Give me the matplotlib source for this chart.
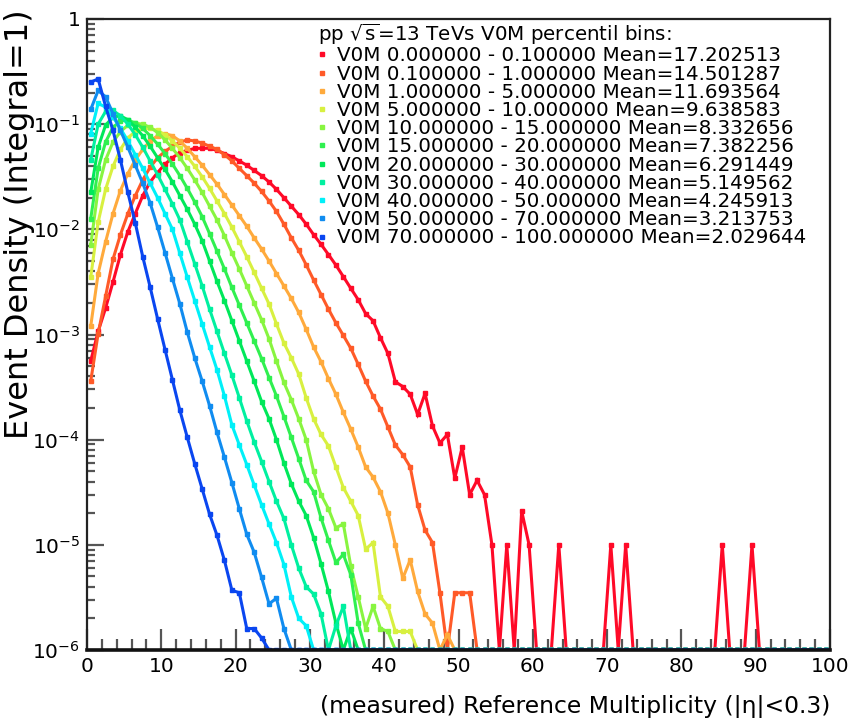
import numpy as np
import matplotlib
matplotlib.use("Agg")
import matplotlib.pyplot as plt
from matplotlib.lines import Line2D
from matplotlib.ticker import FixedLocator, FixedFormatter, MultipleLocator, LogLocator, NullFormatter

plt.rcParams['font.family'] = ['DejaVu Sans']
plt.rcParams['mathtext.fontset'] = 'dejavusans'

# bin centres of the multiplicity histogram (0..100, 100 bins)
bin_centers = np.arange(100) + 0.5

def pad(vals):
    out = np.zeros(100)
    out[:len(vals)] = vals
    return out

v0m_0_01 = pad([5.6e-4, 1.07e-3, 1.78e-3, 3.16e-3, 5.75e-3, 9.5e-3, 1.41e-2, 2.09e-2, 2.82e-2, 3.47e-2,
                4.17e-2, 4.79e-2, 5.37e-2, 5.62e-2, 5.89e-2, 5.89e-2, 5.9e-2, 5.62e-2, 5.25e-2, 4.9e-2,
                4.47e-2, 4.07e-2, 3.63e-2, 3.24e-2, 2.82e-2, 2.4e-2, 2.0e-2, 1.66e-2, 1.38e-2, 1.12e-2,
                8.9e-3, 7.2e-3, 5.75e-3, 4.57e-3, 3.55e-3, 2.75e-3, 2.14e-3, 1.58e-3, 1.35e-3, 9.3e-4,
                6.6e-4, 3.55e-4, 3.2e-4, 2.7e-4, 1.74e-4, 2.75e-4, 1.35e-4, 9.3e-5, 1.12e-4, 4.3e-5,
                8.5e-5, 3.0e-5, 4.1e-5, 3.0e-5, 1.0e-5, 0, 1.0e-5, 0, 2.1e-5, 1.0e-5,
                0, 0, 0, 1.0e-5, 0, 0, 0, 0, 0, 0,
                1.0e-5, 0, 1.0e-5, 0, 0, 0, 0, 0, 0, 0,
                0, 0, 0, 0, 0, 1.0e-5, 0, 0, 0, 1.0e-5])
v0m_01_1 = pad([3.6e-4, 1.02e-3, 2.3e-3, 5.2e-3, 8.9e-3, 1.41e-2, 2.09e-2, 2.95e-2, 3.89e-2, 4.79e-2,
                5.5e-2, 6.17e-2, 6.76e-2, 7.08e-2, 6.92e-2, 6.61e-2, 6.17e-2, 5.75e-2, 5.13e-2, 4.47e-2,
                3.8e-2, 3.24e-2, 2.75e-2, 2.29e-2, 1.86e-2, 1.48e-2, 1.12e-2, 8.3e-3, 6.3e-3, 4.6e-3,
                3.3e-3, 2.4e-3, 1.74e-3, 1.29e-3, 9.8e-4, 7.4e-4, 5.2e-4, 3.6e-4, 2.6e-4, 1.95e-4,
                1.32e-4, 8.9e-5, 7.2e-5, 5.5e-5, 2.4e-5, 1.38e-5, 1.05e-5, 3.5e-6, 0, 3.5e-6,
                3.5e-6, 3.5e-6])
v0m_1_5 = pad([1.2e-3, 3.8e-3, 7.6e-3, 1.41e-2, 2.34e-2, 3.39e-2, 4.57e-2, 5.75e-2, 6.92e-2, 7.76e-2,
               8.13e-2, 7.76e-2, 6.92e-2, 5.89e-2, 4.9e-2, 4.07e-2, 3.31e-2, 2.69e-2, 2.14e-2, 1.7e-2,
               1.35e-2, 1.07e-2, 8.3e-3, 6.5e-3, 5.0e-3, 3.8e-3, 2.9e-3, 2.2e-3, 1.62e-3, 1.12e-3,
               7.6e-4, 5.5e-4, 3.8e-4, 2.7e-4, 1.82e-4, 1.26e-4, 8.5e-5, 5.5e-5, 4.4e-5, 3.2e-5,
               2.0e-5, 1.0e-5, 4.8e-6, 7.2e-6, 3.6e-6, 2.2e-6, 1.8e-6, 0, 1.4e-6])
v0m_5_10 = pad([3.5e-3, 1.17e-2, 2.4e-2, 3.98e-2, 5.75e-2, 7.41e-2, 8.51e-2, 9.12e-2, 9.12e-2, 8.71e-2,
                7.94e-2, 6.92e-2, 5.89e-2, 4.9e-2, 3.98e-2, 3.16e-2, 2.45e-2, 1.86e-2, 1.41e-2, 1.05e-2,
                7.6e-3, 5.5e-3, 3.9e-3, 2.75e-3, 1.95e-3, 1.26e-3, 8.3e-4, 6.0e-4, 4.2e-4, 2.5e-4,
                1.58e-4, 1.12e-4, 8.7e-5, 5.5e-5, 3.5e-5, 2.6e-5, 1.9e-5, 9.1e-6, 1.05e-5, 3.2e-6,
                2.6e-6, 1.5e-6, 1.5e-6, 1.5e-6])
v0m_10_15 = pad([7.1e-3, 2.4e-2, 4.57e-2, 6.76e-2, 8.51e-2, 9.77e-2, 1.02e-1, 1.0e-1, 9.33e-2, 8.32e-2,
                 7.08e-2, 5.89e-2, 4.79e-2, 3.8e-2, 2.95e-2, 2.24e-2, 1.66e-2, 1.23e-2, 8.7e-3, 6.0e-3,
                 4.2e-3, 2.9e-3, 2.0e-3, 1.38e-3, 9.1e-4, 5.6e-4, 3.5e-4, 2.4e-4, 1.58e-4, 1.0e-4,
                 5.0e-5, 3.0e-5, 2.2e-5, 1.45e-5, 1.58e-5, 6.3e-6, 3.2e-6, 1.6e-6, 2.6e-6, 1.6e-6,
                 1.5e-6])
v0m_15_20 = pad([1.26e-2, 3.8e-2, 6.76e-2, 9.33e-2, 1.07e-1, 1.1e-1, 1.02e-1, 9.12e-2, 7.76e-2, 6.46e-2,
                 5.25e-2, 4.17e-2, 3.24e-2, 2.45e-2, 1.82e-2, 1.32e-2, 9.1e-3, 6.2e-3, 4.2e-3, 2.8e-3,
                 1.9e-3, 1.29e-3, 8.7e-4, 5.9e-4, 3.9e-4, 2.6e-4, 1.66e-4, 1.05e-4, 6.6e-5, 4.1e-5,
                 3.2e-5, 1.8e-5, 1.1e-5, 6.8e-6, 8.1e-6, 5.2e-6, 1.8e-6])
v0m_20_30 = pad([2.24e-2, 6.03e-2, 9.77e-2, 1.17e-1, 1.2e-1, 1.1e-1, 9.33e-2, 7.76e-2, 6.17e-2, 4.79e-2,
                 3.72e-2, 2.82e-2, 2.09e-2, 1.55e-2, 1.12e-2, 7.8e-3, 5.0e-3, 3.2e-3, 2.1e-3, 1.35e-3,
                 8.7e-4, 5.6e-4, 3.6e-4, 2.3e-4, 1.58e-4, 1.0e-4, 6.0e-5, 3.8e-5, 2.6e-5, 1.9e-5,
                 1.17e-5, 6.6e-6, 3.6e-6, 1.8e-6, 0, 1.6e-6])
v0m_30_40 = pad([4.57e-2, 1.0e-1, 1.32e-1, 1.35e-1, 1.2e-1, 1.0e-1, 7.94e-2, 6.03e-2, 4.47e-2, 3.31e-2,
                 2.4e-2, 1.74e-2, 1.23e-2, 7.6e-3, 4.7e-3, 2.9e-3, 1.74e-3, 1.07e-3, 6.6e-4, 4.1e-4,
                 2.5e-4, 1.51e-4, 9.5e-5, 6.2e-5, 4.0e-5, 2.6e-5, 1.78e-5, 1.0e-5, 6.0e-6, 4.0e-6,
                 3.4e-6, 2.2e-6, 0, 1.7e-6, 2.6e-6])
v0m_40_50 = pad([8.13e-2, 1.58e-1, 1.45e-1, 1.17e-1, 9.12e-2, 6.92e-2, 5.13e-2, 3.8e-2, 2.75e-2, 2.0e-2,
                 1.41e-2, 1.0e-2, 5.9e-3, 3.5e-3, 2.1e-3, 1.26e-3, 7.6e-4, 4.6e-4, 2.6e-4, 1.38e-4,
                 8.9e-5, 5.8e-5, 3.7e-5, 2.4e-5, 1.58e-5, 1.05e-5, 6.5e-6, 3.2e-6, 2.0e-6, 1.7e-6])
v0m_50_70 = pad([1.38e-1, 2.09e-1, 1.82e-1, 1.26e-1, 8.71e-2, 6.03e-2, 4.07e-2, 2.75e-2, 1.78e-2, 1.05e-2,
                 6.0e-3, 3.4e-3, 1.95e-3, 1.05e-3, 6.0e-4, 3.6e-4, 2.1e-4, 1.17e-4, 6.8e-5, 3.9e-5,
                 2.2e-5, 1.26e-5, 8.5e-6, 4.9e-6, 2.75e-6, 3.1e-6, 1.6e-6])
v0m_70_100 = pad([2.51e-1, 2.69e-1, 1.48e-1, 8.71e-2, 4.57e-2, 2.24e-2, 1.15e-2, 5.5e-3, 2.82e-3, 1.41e-3,
                  7.2e-4, 3.7e-4, 1.9e-4, 1.05e-4, 5.9e-5, 3.4e-5, 1.95e-5, 1.23e-5, 7.1e-6, 3.7e-6,
                  3.5e-6, 1.6e-6, 1.6e-6, 1.3e-6])

series = [v0m_0_01, v0m_01_1, v0m_1_5, v0m_5_10, v0m_10_15, v0m_15_20,
          v0m_20_30, v0m_30_40, v0m_40_50, v0m_50_70, v0m_70_100]
labels = ["V0M 0.000000 - 0.100000 Mean=17.202513",
          "V0M 0.100000 - 1.000000 Mean=14.501287",
          "V0M 1.000000 - 5.000000 Mean=11.693564",
          "V0M 5.000000 - 10.000000 Mean=9.638583",
          "V0M 10.000000 - 15.000000 Mean=8.332656",
          "V0M 15.000000 - 20.000000 Mean=7.382256",
          "V0M 20.000000 - 30.000000 Mean=6.291449",
          "V0M 30.000000 - 40.000000 Mean=5.149562",
          "V0M 40.000000 - 50.000000 Mean=4.245913",
          "V0M 50.000000 - 70.000000 Mean=3.213753",
          "V0M 70.000000 - 100.000000 Mean=2.029644"]
colors = ["#ff0a28", "#ff5a28", "#ffaa3c", "#d8f040", "#88f540", "#30f050",
          "#00e85a", "#00f0a0", "#00f0f8", "#108cf0", "#0a46f0"]

ytick_vals = [1e-6, 1e-5, 1e-4, 1e-3, 1e-2, 1e-1, 1.0]
ytick_labels = [r"$\mathdefault{10^{-6}}$", r"$\mathdefault{10^{-5}}$", r"$\mathdefault{10^{-4}}$",
                r"$\mathdefault{10^{-3}}$", r"$\mathdefault{10^{-2}}$", r"$\mathdefault{10^{-1}}$",
                r"$\mathdefault{1}$"]
xtick_vals = [0, 10, 20, 30, 40, 50, 60, 70, 80, 90, 100]

W, H = 856, 722
fig = plt.figure(figsize=(W / 100, H / 100), dpi=100)
ax = fig.add_axes([87 / W, 72 / H, (830 - 87) / W, (650 - 19) / H])
ax.set_yscale('log')
ymin = 1e-6

for vals, col in zip(series, colors):
    ax.plot(bin_centers, np.maximum(vals, ymin), color=col, lw=2.2,
            marker='s', ms=3.2, mec=col, mfc=col, solid_joinstyle='miter', clip_on=True)

ax.set_xlim(0, 100)
ax.set_ylim(ymin, 1.0)

ax.xaxis.set_major_locator(FixedLocator(xtick_vals))
ax.xaxis.set_minor_locator(MultipleLocator(2))
ax.yaxis.set_major_locator(FixedLocator(ytick_vals))
ax.yaxis.set_major_formatter(FixedFormatter(ytick_labels))
ax.yaxis.set_minor_locator(LogLocator(base=10, subs=np.arange(2, 10), numticks=20))
ax.yaxis.set_minor_formatter(NullFormatter())

ax.tick_params(axis='both', which='both', direction='in', top=False, right=False,
               colors='#555555', labelcolor='black', width=1.6)
ax.tick_params(axis='x', which='major', length=15, labelsize=14.5, pad=5)
ax.tick_params(axis='x', which='minor', length=8)
ax.tick_params(axis='y', which='major', length=12, labelsize=14.5, pad=5)
ax.tick_params(axis='y', which='minor', length=6)
for sp in ax.spines.values():
    sp.set_color('#222222')
    sp.set_linewidth(1.6)
    sp.set_zorder(5)
ax.spines['bottom'].set_linewidth(2.6)
ax.spines['bottom'].set_color('#111111')

fig.text(20 / W, 1 - 9 / H, "Event Density (Integral=1)", rotation=90,
         ha='center', va='top', fontsize=23)
fig.text(830 / W, 1 - 706 / H, "(measured) Reference Multiplicity (|η|<0.3)",
         ha='right', va='center', fontsize=16.9)

handles = [Line2D([], [], ls='none', marker='s', ms=3.5, color=c) for c in colors]
leg = ax.legend(handles, labels, title=r"pp $\sqrt{\mathrm{s}}$=13 TeVs V0M percentil bins:",
                loc='upper left', bbox_to_anchor=(318 / W, 1 - 22 / H),
                bbox_transform=fig.transFigure, frameon=False, borderpad=0.0,
                labelspacing=-0.04, handlelength=0.4, handletextpad=0.55, borderaxespad=0,
                fontsize=14.3, title_fontsize=14.3, alignment='left')

fig.savefig("out.png", dpi=100)
